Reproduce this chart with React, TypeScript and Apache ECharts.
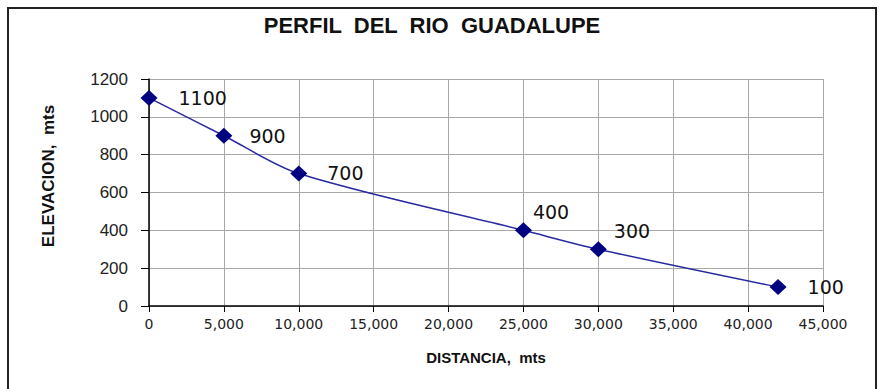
import React, { useEffect, useRef } from "react";
import * as echarts from "echarts";

const distances = [0, 5000, 10000, 25000, 30000, 42000];
const elevations = [1100, 900, 700, 400, 300, 100];
const labelOffsets = [
  [16, 0],
  [12, 0],
  [15, -1],
  [-4, -18],
  [2, -18],
  [16, 0],
];

export default function App() {
  const ref = useRef<HTMLDivElement>(null);
  useEffect(() => {
    const chart = echarts.init(ref.current!, null, { renderer: "svg" });
    const font = "'Liberation Sans', Arial, sans-serif";
    const wide = "'DejaVu Sans', Verdana, sans-serif";
    chart.setOption({
      animation: false,
      backgroundColor: "#ffffff",
      graphic: [
        {
          type: "rect",
          shape: { x: 8, y: 8, width: 868, height: 395 },
          style: { fill: "none", stroke: "#222", lineWidth: 2 },
          silent: true,
        },
        {
          type: "text",
          x: 432,
          y: 25,
          style: {
            text: "PERFIL  DEL  RIO  GUADALUPE",
            align: "center",
            verticalAlign: "middle",
            fontFamily: font,
            fontSize: 22,
            fontWeight: "bold",
            fill: "#111",
          },
          silent: true,
        },
        {
          type: "text",
          x: 48,
          y: 176,
          rotation: Math.PI / 2,
          style: {
            text: "ELEVACION,  mts",
            align: "center",
            verticalAlign: "middle",
            fontFamily: font,
            fontSize: 17,
            fontWeight: "bold",
            fill: "#111",
          },
          silent: true,
        },
      ],
      grid: { left: 149, right: 56, top: 79, bottom: 83 },
      xAxis: {
        type: "value",
        min: 0,
        max: 45000,
        interval: 5000,
        name: "DISTANCIA,  mts",
        nameLocation: "middle",
        nameGap: 44,
        nameTextStyle: { fontFamily: font, fontSize: 15, fontWeight: "bold", color: "#111" },
        axisLine: { show: true, lineStyle: { color: "#000", width: 1.5 } },
        axisTick: { show: true, length: 6, lineStyle: { color: "#000" } },
        axisLabel: {
          fontFamily: wide,
          fontSize: 14,
          color: "#222",
          margin: 11,
          formatter: (v: number) => v.toLocaleString("en-US"),
        },
        splitLine: { show: true, lineStyle: { color: "#a8a8a8", width: 1 } },
      },
      yAxis: {
        type: "value",
        min: 0,
        max: 1200,
        interval: 200,
        axisLine: { show: true, lineStyle: { color: "#000", width: 1.5 } },
        axisTick: { show: true, length: 8, lineStyle: { color: "#000" } },
        axisLabel: {
          fontFamily: font,
          fontSize: 17,
          color: "#222",
          margin: 21,
          formatter: (v: number) => String(v),
        },
        splitLine: { show: true, lineStyle: { color: "#a8a8a8", width: 1 } },
      },
      series: [
        {
          type: "line",
          smooth: 0.3,
          symbol: "diamond",
          symbolSize: [17, 16],
          itemStyle: { color: "#000080" },
          lineStyle: { color: "#2a2aa0", width: 1.5 },
          data: distances.map((d, i) => ({
            value: [d, elevations[i]],
            label: { offset: labelOffsets[i] },
          })),
          label: {
            show: true,
            position: "right",
            formatter: (p: any) => String(p.value[1]),
            fontFamily: wide,
            fontSize: 19,
            color: "#111",
          },
        },
      ],
    });
    return () => chart.dispose();
  }, []);
  return (
    <div
      ref={ref}
      style={{ position: "fixed", left: 0, top: 0, width: 879, height: 389 }}
    />
  );
}
